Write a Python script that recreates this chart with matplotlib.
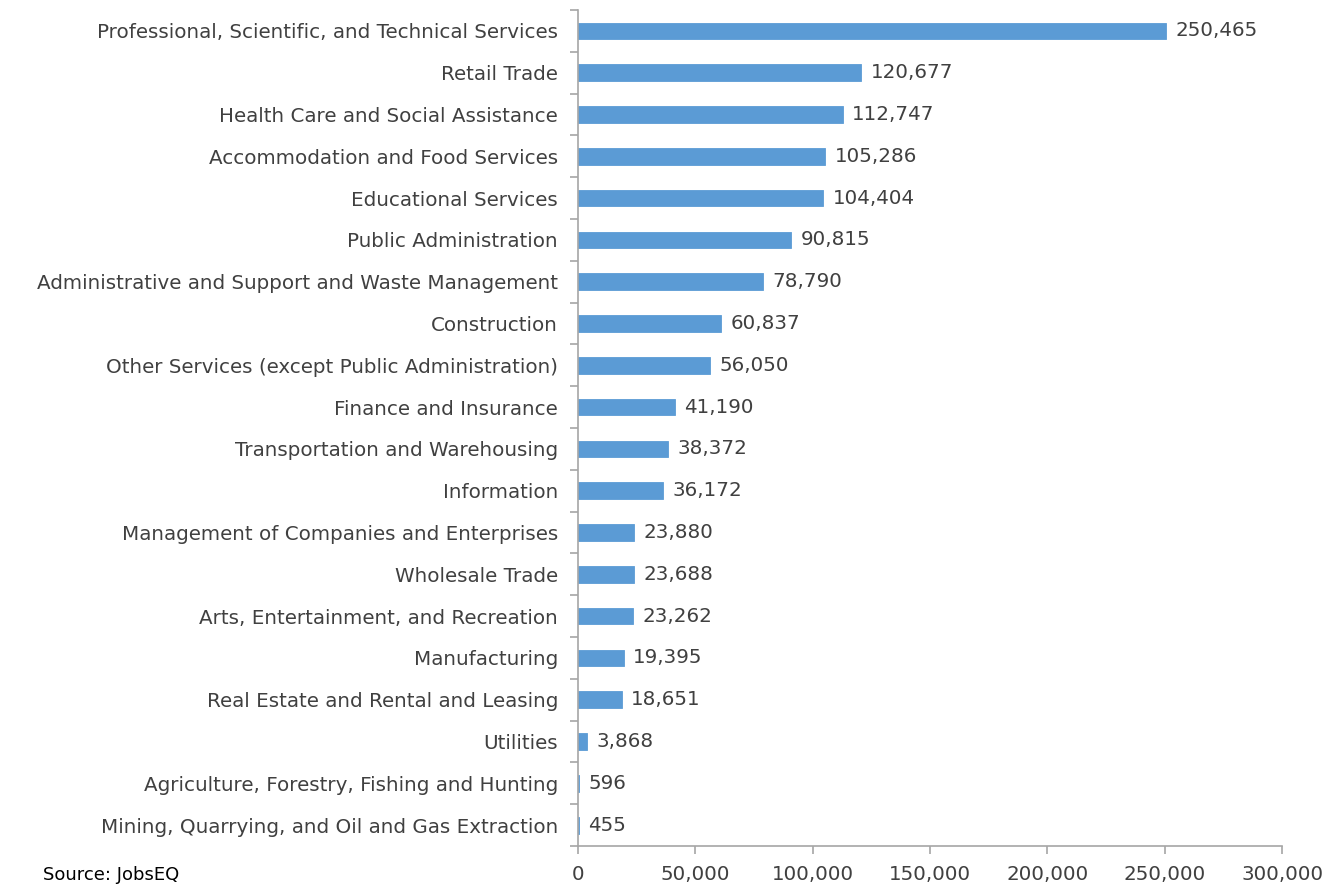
import matplotlib
matplotlib.use("Agg")
import matplotlib.pyplot as plt
from matplotlib.ticker import FuncFormatter

plt.rcParams['font.family'] = ['DejaVu Sans']

# industries, top to bottom
industries = [
    "Professional, Scientific, and Technical Services",
    "Retail Trade",
    "Health Care and Social Assistance",
    "Accommodation and Food Services",
    "Educational Services",
    "Public Administration",
    "Administrative and Support and Waste Management",
    "Construction",
    "Other Services (except Public Administration)",
    "Finance and Insurance",
    "Transportation and Warehousing",
    "Information",
    "Management of Companies and Enterprises",
    "Wholesale Trade",
    "Arts, Entertainment, and Recreation",
    "Manufacturing",
    "Real Estate and Rental and Leasing",
    "Utilities",
    "Agriculture, Forestry, Fishing and Hunting",
    "Mining, Quarrying, and Oil and Gas Extraction",
]
employment = [250465, 120677, 112747, 105286, 104404, 90815, 78790, 60837,
              56050, 41190, 38372, 36172, 23880, 23688, 23262, 19395, 18651,
              3868, 596, 455]
x_ticks = [0, 50000, 100000, 150000, 200000, 250000, 300000]

text_color = "#404040"
bar_color = "#5B9BD5"
axis_color = "#A6A6A6"
fs = 14.3

fig = plt.figure(figsize=(13.32, 8.86), dpi=100)
ax = fig.add_axes([0.434, 0.0451, 0.5286, 0.9436])

n = len(industries)
ypos = list(range(n))
ax.barh(ypos, employment, height=0.4, color=bar_color,
        edgecolor=bar_color, linewidth=0.6)
for y, v in zip(ypos, employment):
    ax.text(v + 4000, y, f"{v:,}", va="center", ha="left",
            fontsize=fs, color=text_color)

ax.set_ylim(n - 0.5, -0.5)
ax.set_xlim(0, 300000)
ax.set_yticks(ypos)
ax.set_yticklabels(industries, fontsize=fs, color=text_color)
ax.tick_params(axis="y", length=0, pad=14.5)
# tick marks sit between categories
ax.set_yticks([i - 0.5 for i in range(n + 1)], minor=True)
ax.tick_params(axis="y", which="minor", length=6, color=axis_color, width=1.2)

ax.set_xticks(x_ticks)
ax.xaxis.set_major_formatter(FuncFormatter(lambda v, p: f"{int(v):,}"))
ax.tick_params(axis="x", length=6, color=axis_color, width=1.2,
               labelsize=fs, labelcolor=text_color, pad=8)

for s in ["top", "right"]:
    ax.spines[s].set_visible(False)
for s in ["left", "bottom"]:
    ax.spines[s].set_color(axis_color)
    ax.spines[s].set_linewidth(1.2)

fig.text(43 / 1332, 1 - 875 / 886, "Source: JobsEQ", fontsize=13,
         color="#000000", va="center", ha="left")

fig.savefig("out.png", dpi=100)
